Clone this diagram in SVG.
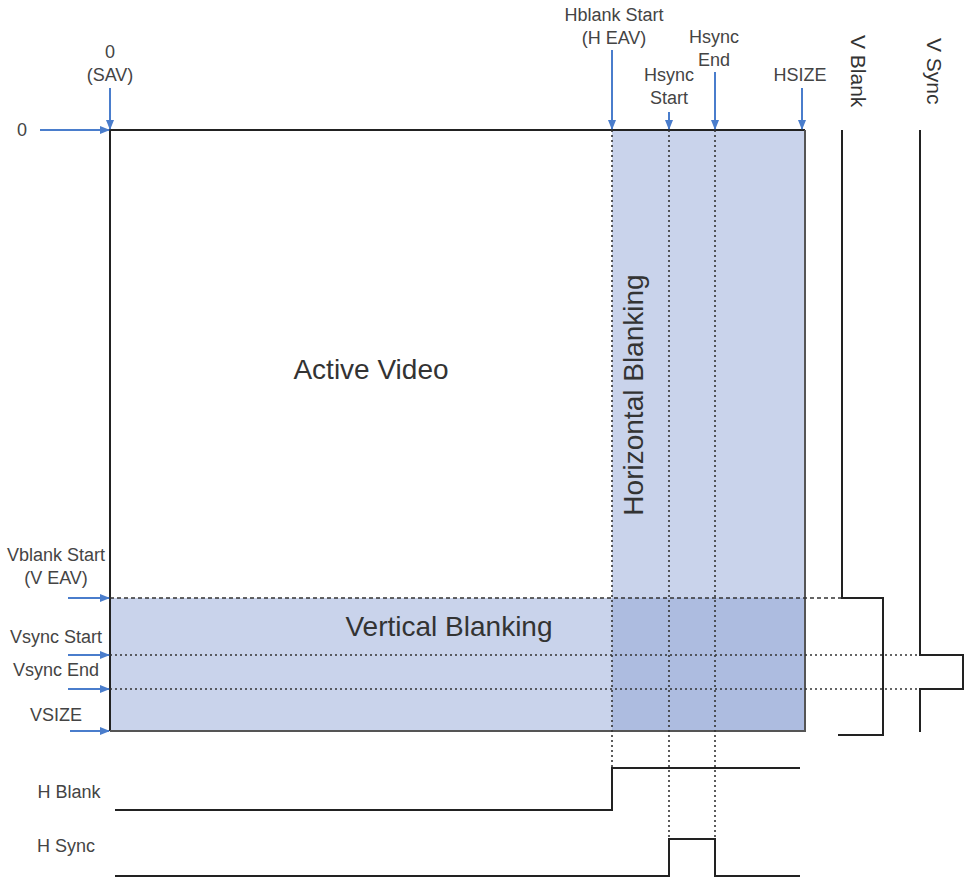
<svg xmlns="http://www.w3.org/2000/svg" width="971" height="881" viewBox="0 0 971 881">
<defs>
<marker id="ah" markerWidth="10" markerHeight="10" refX="9" refY="5" orient="auto" markerUnits="userSpaceOnUse">
<path d="M0,1 L10,5 L0,9 Z" fill="#4a7dcc"/>
</marker>
<style>
.lbl{font-family:"Liberation Sans",Arial,sans-serif;font-size:18px;fill:#444;text-anchor:middle}
.vl{font-family:"Liberation Sans",Arial,sans-serif;font-size:21px;fill:#333}
.big{font-family:"Liberation Sans",Arial,sans-serif;font-size:28px;fill:#333;text-anchor:middle}
.arr{stroke:#4a7dcc;stroke-width:2;fill:none;marker-end:url(#ah)}
.sig{stroke:#222;stroke-width:2;fill:none}
.dot{stroke:#333;stroke-width:1.6;stroke-dasharray:2,3;fill:none}
.dash{stroke:#333;stroke-width:1.6;stroke-dasharray:4,3;fill:none}
</style>
</defs>
<rect width="971" height="881" fill="#fff"/>
<g id="frame">
<rect x="612" y="130" width="193" height="601" fill="#c9d3eb"/>
<rect x="110" y="598" width="502" height="133" fill="#c9d3eb"/>
<rect x="612" y="598" width="193" height="133" fill="#adbce0"/>
<path d="M110,731 L110,130 L805,130" class="sig"/>
<path d="M805,130 L805,731 L110,731" stroke="#555" stroke-width="2" fill="none"/>
<text class="big" x="371" y="379">Active Video</text>
<text class="big" x="449" y="636">Vertical Blanking</text>
<text class="big" transform="translate(643,395) rotate(-90)">Horizontal Blanking</text>
</g>
<g id="connectors">
<path class="dot" d="M612,130 V770"/>
<path class="dot" d="M669,130 V840"/>
<path class="dot" d="M715,130 V840"/>
<path class="dash" d="M110,598 H842"/>
<path class="dot" d="M110,655 H920"/>
<path class="dot" d="M110,689 H920"/>
<path class="arr" d="M110,88 V129"/>
<path class="arr" d="M40,130 H109"/>
<path class="arr" d="M612,50 V129"/>
<path class="arr" d="M669,112 V129"/>
<path class="arr" d="M715,72 V129"/>
<path class="arr" d="M802,88 V129"/>
<path class="arr" d="M68,598 H109"/>
<path class="arr" d="M68,655 H109"/>
<path class="arr" d="M68,689 H109"/>
<path class="arr" d="M70,731 H109"/>
</g>
<g id="vblank">
<path class="sig" d="M842,130 V598 H883 V735 H838"/>
<text class="vl" transform="translate(851,35) rotate(90)">V Blank</text>
</g>
<g id="vsync">
<path class="sig" d="M920,130 V655 H963 V689 H920 V732"/>
<text class="vl" transform="translate(927,38) rotate(90)">V Sync</text>
</g>
<g id="hblank">
<path class="sig" d="M115,810 H612 V768 H800"/>
<text class="lbl" x="69" y="798">H Blank</text>
</g>
<g id="hsync">
<path class="sig" d="M115,876 H669 V839 H715 V876 H800"/>
<text class="lbl" x="66" y="852">H Sync</text>
</g>
<g id="labels">
<text class="lbl" x="110" y="58">0</text>
<text class="lbl" x="110" y="81">(SAV)</text>
<text class="lbl" x="22" y="136">0</text>
<text class="lbl" x="614" y="21">Hblank Start</text>
<text class="lbl" x="614" y="44">(H EAV)</text>
<text class="lbl" x="669" y="81">Hsync</text>
<text class="lbl" x="669" y="104">Start</text>
<text class="lbl" x="714" y="43">Hsync</text>
<text class="lbl" x="714" y="66">End</text>
<text class="lbl" x="800" y="81">HSIZE</text>
<text class="lbl" x="56" y="561">Vblank Start</text>
<text class="lbl" x="56" y="584">(V EAV)</text>
<text class="lbl" x="56" y="643">Vsync Start</text>
<text class="lbl" x="56" y="676">Vsync End</text>
<text class="lbl" x="56" y="721">VSIZE</text>
</g>
</svg>
